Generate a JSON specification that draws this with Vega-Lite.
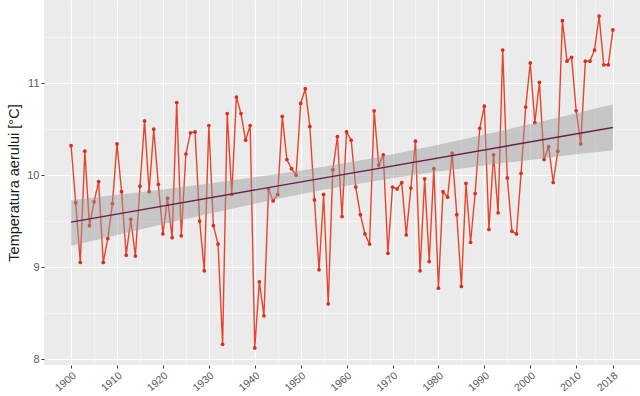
{
  "$schema": "https://vega.github.io/schema/vega-lite/v6.json",
  "width": 596,
  "height": 365,
  "autosize": {"type": "none"},
  "padding": {"left": 44, "top": 0, "right": 0, "bottom": 31},
  "background": "#ffffff",
  "config": {
    "view": {"fill": "#ebebeb", "stroke": null},
    "font": "Liberation Sans"
  },
  "datasets": {
    "temp": [
      {"year":1900,"t":10.32},{"year":1901,"t":9.70},{"year":1902,"t":9.05},{"year":1903,"t":10.26},{"year":1904,"t":9.45},
      {"year":1905,"t":9.71},{"year":1906,"t":9.93},{"year":1907,"t":9.05},{"year":1908,"t":9.31},{"year":1909,"t":9.69},
      {"year":1910,"t":10.34},{"year":1911,"t":9.82},{"year":1912,"t":9.13},{"year":1913,"t":9.52},{"year":1914,"t":9.12},
      {"year":1915,"t":9.88},{"year":1916,"t":10.59},{"year":1917,"t":9.82},{"year":1918,"t":10.50},{"year":1919,"t":9.90},
      {"year":1920,"t":9.36},{"year":1921,"t":9.75},{"year":1922,"t":9.32},{"year":1923,"t":10.79},{"year":1924,"t":9.34},
      {"year":1925,"t":10.23},{"year":1926,"t":10.46},{"year":1927,"t":10.47},{"year":1928,"t":9.50},{"year":1929,"t":8.96},
      {"year":1930,"t":10.54},{"year":1931,"t":9.45},{"year":1932,"t":9.25},{"year":1933,"t":8.16},{"year":1934,"t":10.67},
      {"year":1935,"t":9.79},{"year":1936,"t":10.85},{"year":1937,"t":10.67},{"year":1938,"t":10.38},{"year":1939,"t":10.54},
      {"year":1940,"t":8.12},{"year":1941,"t":8.84},{"year":1942,"t":8.47},{"year":1943,"t":9.85},{"year":1944,"t":9.72},
      {"year":1945,"t":9.79},{"year":1946,"t":10.64},{"year":1947,"t":10.17},{"year":1948,"t":10.07},{"year":1949,"t":10.00},
      {"year":1950,"t":10.78},{"year":1951,"t":10.94},{"year":1952,"t":10.53},{"year":1953,"t":9.73},{"year":1954,"t":8.97},
      {"year":1955,"t":9.79},{"year":1956,"t":8.60},{"year":1957,"t":10.06},{"year":1958,"t":10.42},{"year":1959,"t":9.55},
      {"year":1960,"t":10.47},{"year":1961,"t":10.38},{"year":1962,"t":9.87},{"year":1963,"t":9.57},{"year":1964,"t":9.36},
      {"year":1965,"t":9.25},{"year":1966,"t":10.70},{"year":1967,"t":10.11},{"year":1968,"t":10.22},{"year":1969,"t":9.15},
      {"year":1970,"t":9.87},{"year":1971,"t":9.85},{"year":1972,"t":9.92},{"year":1973,"t":9.35},{"year":1974,"t":9.86},
      {"year":1975,"t":10.37},{"year":1976,"t":8.96},{"year":1977,"t":9.96},{"year":1978,"t":9.06},{"year":1979,"t":10.07},
      {"year":1980,"t":8.77},{"year":1981,"t":9.82},{"year":1982,"t":9.76},{"year":1983,"t":10.24},{"year":1984,"t":9.57},
      {"year":1985,"t":8.79},{"year":1986,"t":9.91},{"year":1987,"t":9.27},{"year":1988,"t":9.80},{"year":1989,"t":10.51},
      {"year":1990,"t":10.75},{"year":1991,"t":9.41},{"year":1992,"t":10.22},{"year":1993,"t":9.59},{"year":1994,"t":11.36},
      {"year":1995,"t":9.97},{"year":1996,"t":9.39},{"year":1997,"t":9.36},{"year":1998,"t":10.02},{"year":1999,"t":10.74},
      {"year":2000,"t":11.22},{"year":2001,"t":10.57},{"year":2002,"t":11.01},{"year":2003,"t":10.17},{"year":2004,"t":10.31},
      {"year":2005,"t":9.92},{"year":2006,"t":10.26},{"year":2007,"t":11.68},{"year":2008,"t":11.24},{"year":2009,"t":11.28},
      {"year":2010,"t":10.70},{"year":2011,"t":10.34},{"year":2012,"t":11.24},{"year":2013,"t":11.24},{"year":2014,"t":11.36},
      {"year":2015,"t":11.73},{"year":2016,"t":11.20},{"year":2017,"t":11.20},{"year":2018,"t":11.58}
    ],
    "band": [
      {"year":1900,"lo":9.232,"hi":9.728},
      {"year":1910,"lo":9.350,"hi":9.786},
      {"year":1920,"lo":9.467,"hi":9.845},
      {"year":1930,"lo":9.580,"hi":9.908},
      {"year":1940,"lo":9.690,"hi":9.976},
      {"year":1950,"lo":9.792,"hi":10.050},
      {"year":1960,"lo":9.884,"hi":10.134},
      {"year":1970,"lo":9.966,"hi":10.228},
      {"year":1980,"lo":10.039,"hi":10.331},
      {"year":1990,"lo":10.105,"hi":10.441},
      {"year":2000,"lo":10.166,"hi":10.556},
      {"year":2010,"lo":10.226,"hi":10.674},
      {"year":2018,"lo":10.272,"hi":10.768}
    ]
  },
  "resolve": {"axis": {"x": "independent", "y": "independent"}},
  "layer": [
    {
      "data": {"name": "temp"},
      "mark": {"type": "line", "color": "#e6452d", "strokeWidth": 1.4, "point": {"filled": true, "size": 14, "color": "#d7301f", "opacity": 1}},
      "encoding": {
        "x": {
          "field": "year", "type": "quantitative",
          "scale": {"domain": [1894.1, 2023.9], "nice": false, "zero": false},
          "axis": {
            "values": [1900,1910,1920,1930,1940,1950,1960,1970,1980,1990,2000,2010,2018],
            "format": "d", "title": null, "domain": false,
            "grid": true, "gridColor": "#ffffff", "gridWidth": 1.1,
            "ticks": true, "tickColor": "#333333", "tickSize": 3, "tickWidth": 1,
            "labelAngle": -40, "labelAlign": "right", "labelBaseline": "top",
            "labelColor": "#5a5a5a", "labelFontSize": 10.5, "labelPadding": 2, "labelFlush": false, "labelOverlap": false
          }
        },
        "y": {
          "field": "t", "type": "quantitative",
          "scale": {"domain": [7.935, 11.905], "nice": false, "zero": false},
          "axis": {
            "values": [8, 9, 10, 11], "title": "Temperatura aerului [°C]",
            "titleFontSize": 14.5, "titleFontWeight": "normal", "titleColor": "#1a1a1a", "titlePadding": 5,
            "domain": false, "grid": true, "gridColor": "#ffffff", "gridWidth": 1.1,
            "ticks": true, "tickColor": "#333333", "tickSize": 3,
            "labelColor": "#5a5a5a", "labelFontSize": 11, "labelPadding": 2
          }
        }
      }
    },
    {
      "data": {"name": "band"},
      "mark": {"type": "area", "color": "#999999", "opacity": 0.45, "interpolate": "monotone"},
      "encoding": {
        "x": {
          "field": "year", "type": "quantitative",
          "axis": {
            "orient": "top", "values": [1905,1915,1925,1935,1945,1955,1965,1975,1985,1995,2005,2014],
            "labels": false, "ticks": false, "domain": false, "title": null,
            "grid": true, "gridColor": "#ffffff", "gridWidth": 0.5
          }
        },
        "y": {
          "field": "lo", "type": "quantitative",
          "axis": {
            "orient": "right", "values": [8.5, 9.5, 10.5, 11.5],
            "labels": false, "ticks": false, "domain": false, "title": null,
            "grid": true, "gridColor": "#ffffff", "gridWidth": 0.5
          }
        },
        "y2": {"field": "hi"}
      }
    },
    {
      "data": {"name": "temp"},
      "transform": [{"regression": "t", "on": "year", "extent": [1900, 2018]}],
      "mark": {"type": "line", "color": "#6b1f4c", "strokeWidth": 1.4},
      "encoding": {
        "x": {"field": "year", "type": "quantitative", "axis": null},
        "y": {"field": "t", "type": "quantitative", "axis": null}
      }
    }
  ]
}
